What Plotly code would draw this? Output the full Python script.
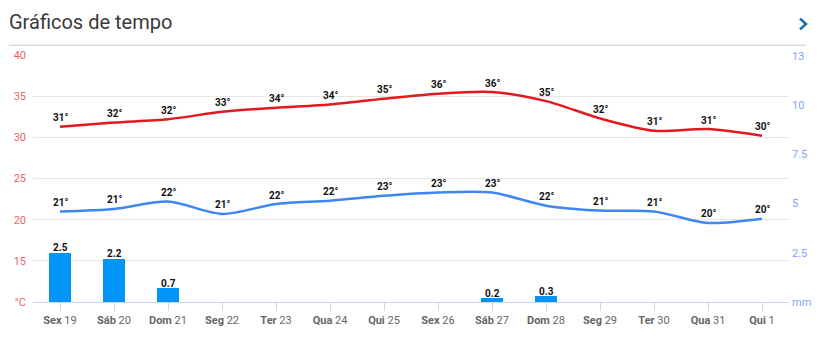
import plotly.graph_objects as go

days = ["Sex", "Sáb", "Dom", "Seg", "Ter", "Qua", "Qui", "Sex", "Sáb", "Dom", "Seg", "Ter", "Qua", "Qui"]
dates = ["19", "20", "21", "22", "23", "24", "25", "26", "27", "28", "29", "30", "31", "1"]

t_max = [31.3, 31.8, 32.2, 33.1, 33.6, 34.0, 34.7, 35.3, 35.5, 34.4, 32.3, 30.8, 31.0, 30.2]
t_max_labels = [31, 32, 32, 33, 34, 34, 35, 36, 36, 35, 32, 31, 31, 30]
t_min = [21.0, 21.3, 22.2, 20.7, 21.9, 22.3, 22.9, 23.3, 23.3, 21.7, 21.1, 21.0, 19.6, 20.1]
t_min_labels = [21, 21, 22, 21, 22, 22, 23, 23, 23, 22, 21, 21, 20, 20]
precip = [2.5, 2.2, 0.7, 0, 0, 0, 0, 0, 0.2, 0.3, 0, 0, 0, 0]

temp_ticks = [10, 15, 20, 25, 30, 35, 40]
temp_ticktext = ["°C", "15", "20", "25", "30", "35", "40"]
mm_ticks = [0, 2.5, 5, 7.5, 10, 12.5]
mm_ticktext = ["mm", "2.5", "5", "7.5", "10", "13"]

x = list(range(len(days)))
xticktext = [f"<b>{d}</b> {n}" for d, n in zip(days, dates)]

FONT = "Roboto"
fig = go.Figure()

fig.add_trace(go.Bar(
    x=x, y=precip, yaxis="y2", marker=dict(color="#0095f6", line=dict(width=0)),
    width=0.41, hoverinfo="skip",
))

for xi, v in zip(x, precip):
    if v > 0:
        fig.add_annotation(
            x=xi, y=v, yref="y2", text=f"{v:g}", showarrow=False, yshift=5,
            font=dict(family=FONT, size=10, color="#111", weight="bold"),
        )

fig.add_trace(go.Scatter(
    x=x, y=t_max, mode="lines", line=dict(color="#e3191f", width=2.5, shape="spline", smoothing=0.8),
    hoverinfo="skip",
))
fig.add_trace(go.Scatter(
    x=x, y=t_min, mode="lines", line=dict(color="#3f86f0", width=2.5, shape="spline", smoothing=0.8),
    hoverinfo="skip",
))

for vals, labels in ((t_max, t_max_labels), (t_min, t_min_labels)):
    for xi, v, lab in zip(x, vals, labels):
        fig.add_annotation(
            x=xi, y=v, text=f"{lab}°", showarrow=False, yshift=9,
            font=dict(family=FONT, size=10, color="#111", weight="bold"),
        )

fig.update_layout(
    width=831, height=339,
    margin=dict(l=33, r=42, t=55, b=33),
    paper_bgcolor="white", plot_bgcolor="white",
    showlegend=False,
    font=dict(family=FONT),
    title=dict(text="Gráficos de tempo", x=9 / 831, xanchor="left", xref="container",
               y=1 - 22 / 339, yanchor="middle", yref="container",
               font=dict(family=FONT, size=20, color="#3a3a3a")),
    xaxis=dict(
        range=[-0.5, 13.5], tickmode="array", tickvals=x, ticktext=xticktext,
        showgrid=False, zeroline=False,
        showline=True, linecolor="#ccd6eb", linewidth=1,
        ticks="outside", ticklen=8, tickcolor="#ccd6eb",
        tickfont=dict(family=FONT, size=11, color="#666666"),
        fixedrange=True,
    ),
    yaxis=dict(
        range=[10, 40], tickmode="array", tickvals=temp_ticks, ticktext=temp_ticktext,
        showgrid=True, gridcolor="#e6e6e6", gridwidth=1, zeroline=False,
        tickfont=dict(family=FONT, size=11, color="#e8656b"),
        ticklabelstandoff=6,
        fixedrange=True,
    ),
    yaxis2=dict(
        range=[0, 12.55], overlaying="y", side="right",
        tickmode="array", tickvals=mm_ticks, ticktext=mm_ticktext,
        showgrid=False, zeroline=False,
        tickfont=dict(family=FONT, size=11, color="#7ea6ef"),
        ticklabelstandoff=2,
        fixedrange=True,
    ),
    bargap=0,
)

fig.add_shape(type="line", xref="paper", yref="paper",
              x0=(9 - 33) / 756, x1=(806 - 33) / 756,
              y0=(306 - 45) / 251, y1=(306 - 45) / 251,
              line=dict(color="#dddddd", width=1.5))
fig.add_shape(type="path", xref="paper", yref="paper",
              path=f"M {(800-33)/756},{(306-18)/251} L {(806-33)/756},{(306-23.5)/251} L {(800-33)/756},{(306-29)/251}",
              line=dict(color="#1a6aa6", width=2.5))

fig.write_html("out.html", config={"displayModeBar": False})
